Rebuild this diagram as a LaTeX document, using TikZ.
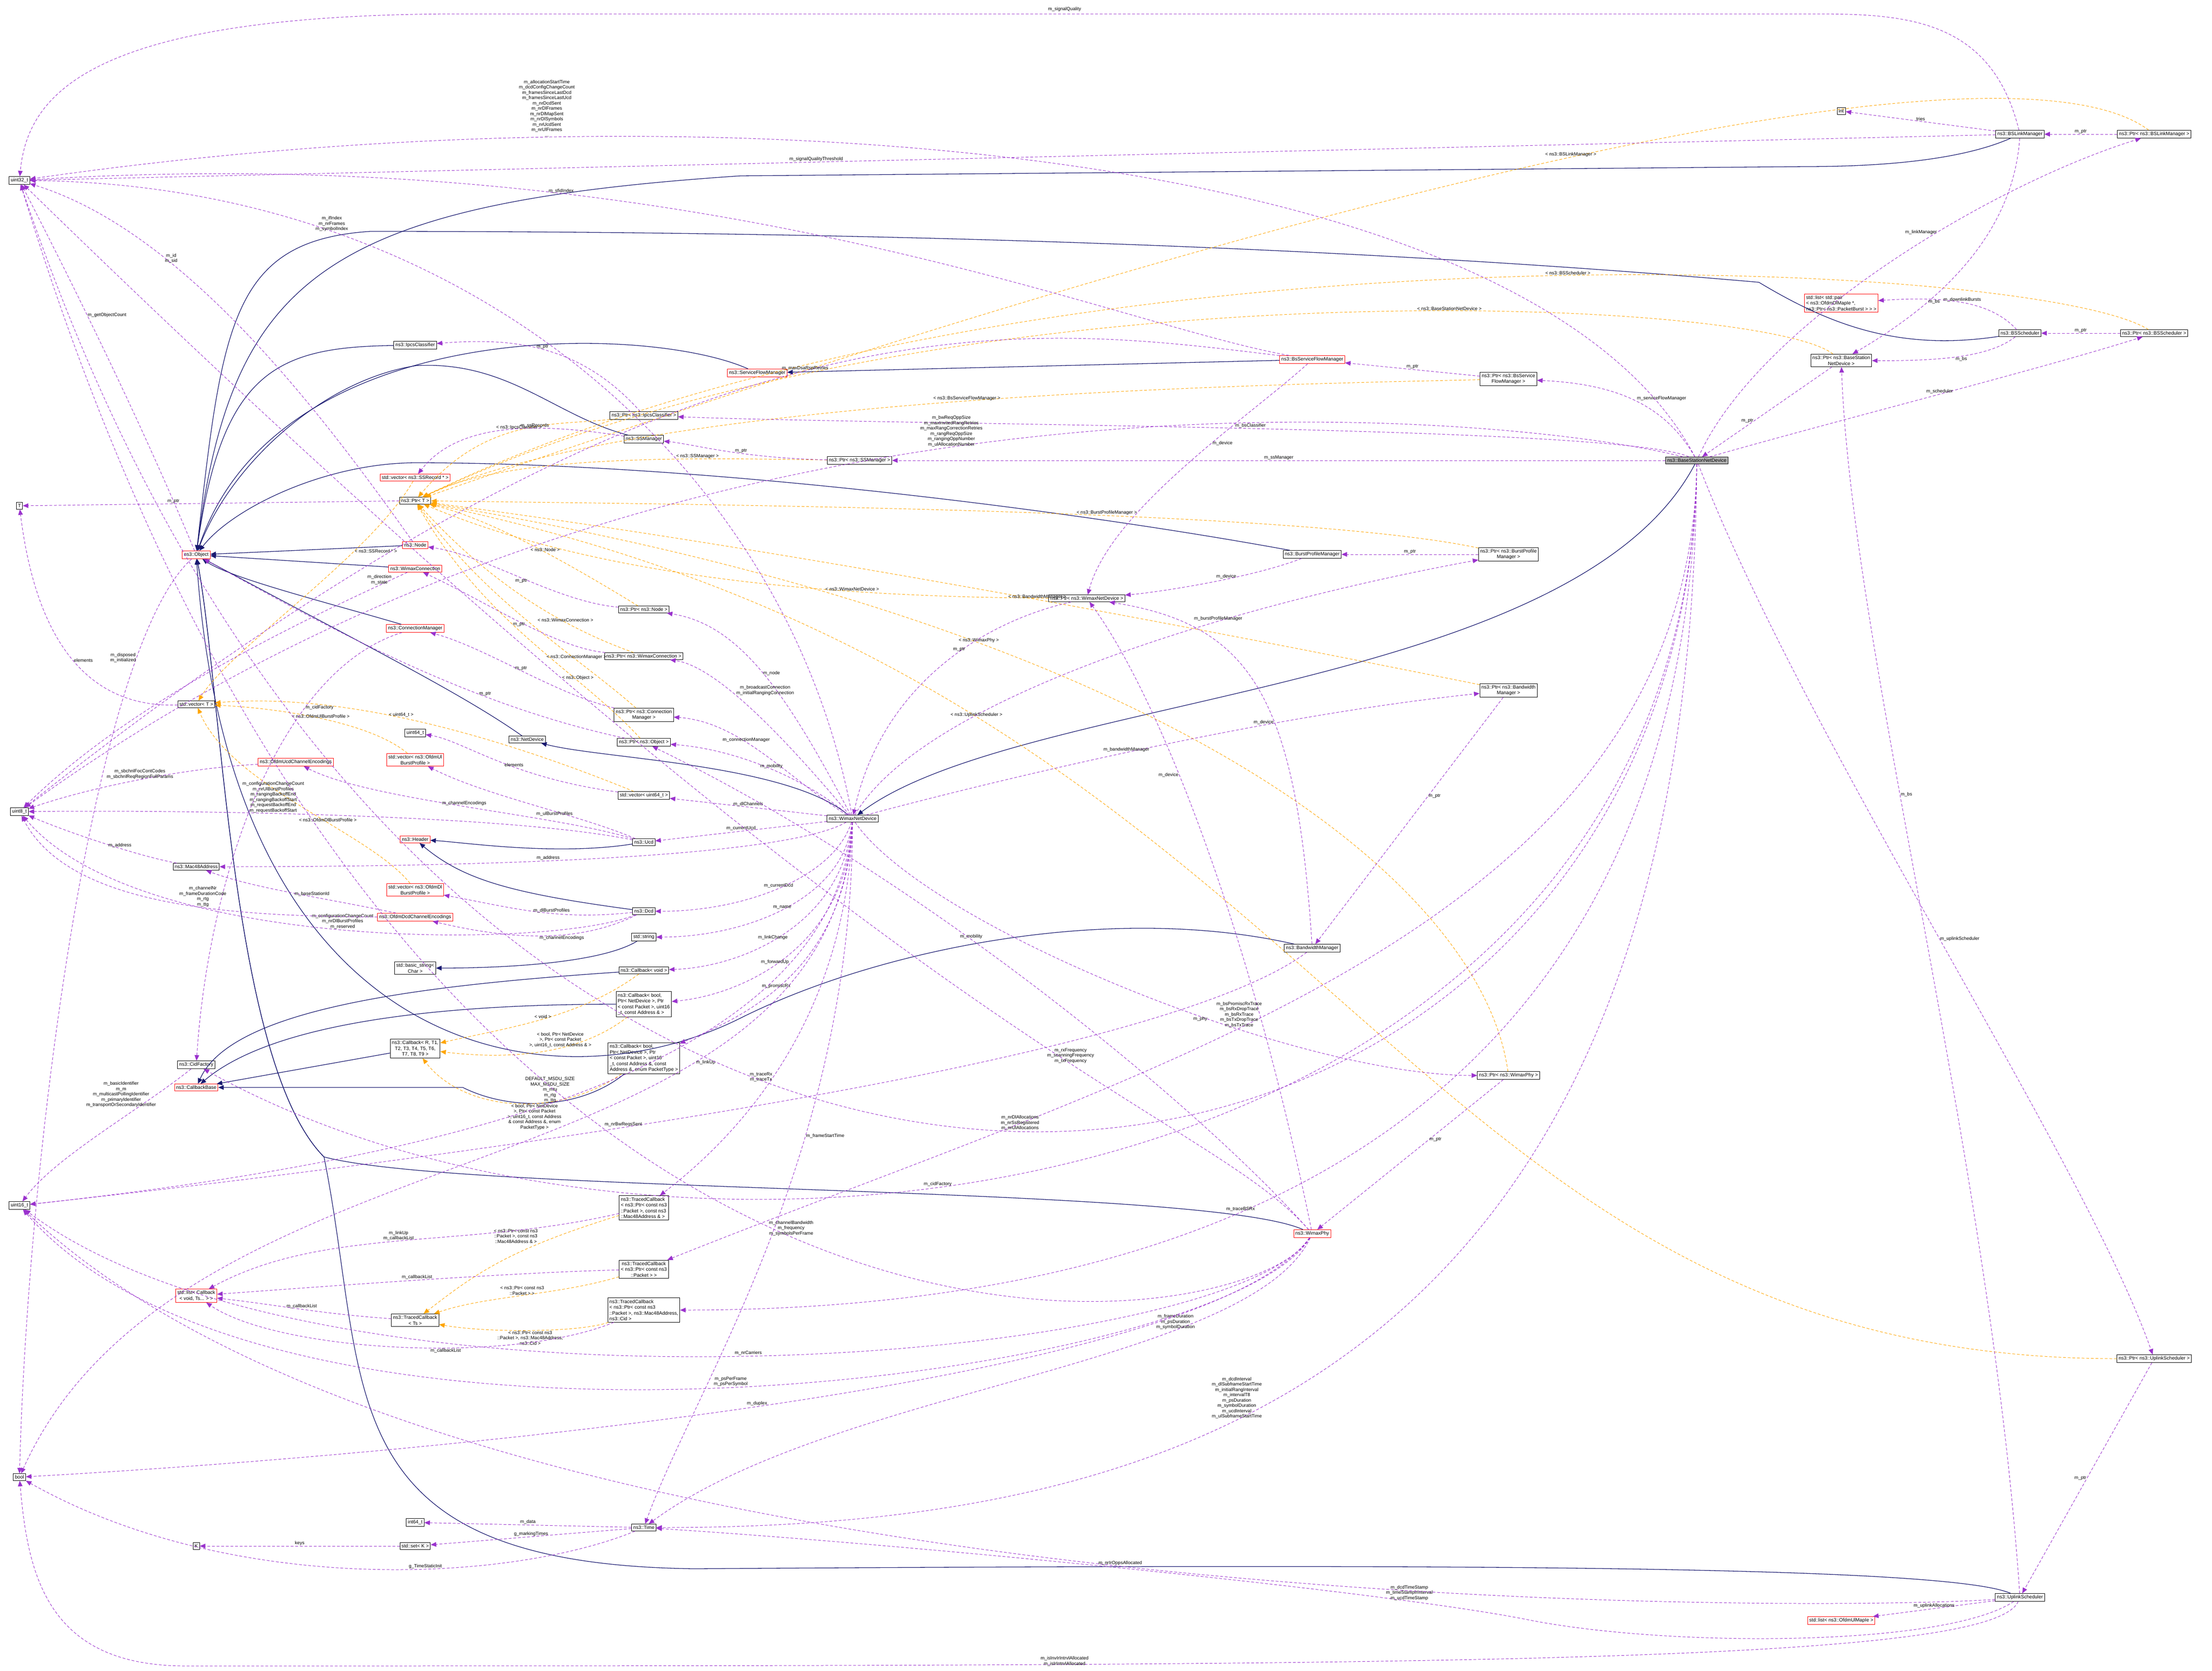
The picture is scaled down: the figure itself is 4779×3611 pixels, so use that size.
\documentclass[tikz,border=0pt]{standalone}
\usepackage{fontspec}
\setmainfont{Liberation Sans}
\usetikzlibrary{arrows.meta}
\definecolor{inhc}{HTML}{191970}
\definecolor{usec}{HTML}{9A32CD}
\definecolor{tmpc}{HTML}{FFA500}
\tikzset{
 box/.style={draw=black,fill=white,font=\fontsize{10.5}{12.5}\selectfont,inner sep=3.5pt,align=center,line width=1pt},
 boxr/.style={box,draw=red},
 boxg/.style={box,fill=black!30},
 inh/.style={draw=inhc,line width=1.3pt,-{Triangle[length=12pt,width=10pt]}},
 use/.style={draw=usec,line width=1pt,dash pattern=on 6pt off 4pt,-{Triangle[length=12pt,width=10pt]},fill=none},
 tmp/.style={draw=tmpc,line width=1pt,dash pattern=on 6pt off 4pt,-{Triangle[length=12pt,width=10pt]}},
 lbl/.style={font=\fontsize{10}{11.5}\selectfont,align=center,text=black,fill=none,inner sep=1pt},
}
\begin{document}
\begin{tikzpicture}[x=1pt,y=-1pt]
\useasboundingbox (0,0) rectangle (4779,3611);
\fill[white] (0,0) rectangle (4779,3611);
% nodes
\node[box] (u32) at (42,390) {uint32\_t};
\node[box] (T) at (42,1093) {T};
\node[boxr] (obj) at (424,1199) {ns3::Object};
\node[box] (ipcs) at (897,746) {ns3::IpcsClassifier};
\node[boxr] (sfm) at (1636,806) {ns3::ServiceFlowManager};
\node[box] (pipcs) at (1391,898) {ns3::Ptr< ns3::IpcsClassifier >};
\node[box] (ssm) at (1391,949) {ns3::SSManager};
\node[boxr] (vss) at (897,1032) {std::vector< ns3::SSRecord * >};
\node[box] (ptrT) at (897,1082) {ns3::Ptr< T >};
\node[boxr] (node) at (897,1178) {ns3::Node};
\node[boxr] (wcon) at (897,1229) {ns3::WimaxConnection};
\node[boxr] (cm) at (897,1358) {ns3::ConnectionManager};
\node[box] (pnode) at (1391,1317) {ns3::Ptr< ns3::Node >};
\node[box] (pwcon) at (1391,1418) {ns3::Ptr< ns3::WimaxConnection >};
\node[box] (vecT) at (424,1522) {std::vector< T >};
\node[box] (pcm) at (1391,1545) {ns3::Ptr< ns3::Connection\\Manager >};
\node[box] (u64) at (897,1584) {uint64\_t};
\node[box] (nd) at (1139,1598) {ns3::NetDevice};
\node[box] (pobj) at (1391,1604) {ns3::Ptr< ns3::Object >};
\node[boxr] (ucde) at (639,1647) {ns3::OfdmUcdChannelEncodings};
\node[boxr] (vul) at (897,1642) {std::vector< ns3::OfdmUl\\BurstProfile >};
\node[box] (vu64) at (1391,1719) {std::vector< uint64\_t >};
\node[box] (u8) at (42,1754) {uint8\_t};
\node[box] (wnd) at (1842,1769) {ns3::WimaxNetDevice};
\node[boxr] (hdr) at (897,1814) {ns3::Header};
\node[box] (ucd) at (1391,1820) {ns3::Ucd};
\node[box] (mac) at (424,1873) {ns3::Mac48Address};
\node[boxr] (vdl) at (897,1923) {std::vector< ns3::OfdmDl\\BurstProfile >};
\node[box] (dcd) at (1391,1969) {ns3::Dcd};
\node[boxr] (dcde) at (897,1982) {ns3::OfdmDcdChannelEncodings};
\node[box] (str) at (1391,2025) {std::string};
\node[box] (bstr) at (897,2092) {std::basic\_string<\\Char >};
\node[box] (cbv) at (1391,2097) {ns3::Callback< void >};
\node[box,align=left] (cbf) at (1391,2170) {ns3::Callback< bool,\\ Ptr< NetDevice >, Ptr\\< const Packet >, uint16\\\_t, const Address \& >};
\node[box] (cbr) at (897,2266) {ns3::Callback< R, T1,\\ T2, T3, T4, T5, T6,\\ T7, T8, T9 >};
\node[box,align=left] (cbp) at (1391,2287) {ns3::Callback< bool,\\ Ptr< NetDevice >, Ptr\\< const Packet >, uint16\\\_t, const Address \&, const\\ Address \&, enum PacketType >};
\node[box] (cidf) at (424,2301) {ns3::CidFactory};
\node[boxr] (cbb) at (424,2350) {ns3::CallbackBase};
\node[box] (u16) at (42,2605) {uint16\_t};
\node[box,align=left] (tcm) at (1391,2610) {ns3::TracedCallback\\< ns3::Ptr< const ns3\\::Packet >, const ns3\\::Mac48Address \& >};
\node[boxr] (lst) at (424,2800) {std::list< Callback\\< void, Ts... > >};
\node[box] (tcp) at (1391,2743) {ns3::TracedCallback\\< ns3::Ptr< const ns3\\::Packet > >};
\node[box] (tcts) at (897,2853) {ns3::TracedCallback\\< Ts >};
\node[box,align=left] (tcc) at (1391,2831) {ns3::TracedCallback\\< ns3::Ptr< const ns3\\::Packet >, ns3::Mac48Address,\\ ns3::Cid >};
\node[box] (bool) at (42,3192) {bool};
\node[box] (i64) at (897,3290) {int64\_t};
\node[box] (time) at (1391,3301) {ns3::Time};
\node[box] (K) at (424,3341) {K};
\node[box] (setK) at (897,3341) {std::set< K >};
\node[box] (int) at (3978,240) {int};
\node[box] (bslm) at (4364,290) {ns3::BSLinkManager};
\node[box] (pbslm) at (4654,290) {ns3::Ptr< ns3::BSLinkManager >};
\node[boxr,align=left] (lpair) at (3978,655) {std::list< std::pair\\< ns3::OfdmDlMapIe *,\\ ns3::Ptr< ns3::PacketBurst > > >};
\node[box] (bss) at (4364,720) {ns3::BSScheduler};
\node[box] (pbss) at (4654,720) {ns3::Ptr< ns3::BSScheduler >};
\node[box] (pbsnd) at (3978,779) {ns3::Ptr< ns3::BaseStation\\NetDevice >};
\node[boxr] (bsfm) at (2835,777) {ns3::BsServiceFlowManager};
\node[box] (pbsfm) at (3259,819) {ns3::Ptr< ns3::BsService\\FlowManager >};
\node[boxg] (bsnd) at (3666,995) {ns3::BaseStationNetDevice};
\node[box] (pssm) at (1857,995) {ns3::Ptr< ns3::SSManager >};
\node[box] (bpm) at (2835,1198) {ns3::BurstProfileManager};
\node[box] (pbpm) at (3259,1198) {ns3::Ptr< ns3::BurstProfile\\Manager >};
\node[box] (pwnd) at (2348,1293) {ns3::Ptr< ns3::WimaxNetDevice >};
\node[box] (pbwm) at (3259,1492) {ns3::Ptr< ns3::Bandwidth\\Manager >};
\node[box] (bwm) at (2835,2049) {ns3::BandwidthManager};
\node[box] (pphy) at (3259,2324) {ns3::Ptr< ns3::WimaxPhy >};
\node[boxr] (phy) at (2835,2666) {ns3::WimaxPhy};
\node[box] (pus) at (4654,2936) {ns3::Ptr< ns3::UplinkScheduler >};
\node[box] (us) at (4364,3452) {ns3::UplinkScheduler};
\node[boxr] (lul) at (3978,3502) {std::list< ns3::OfdmUlMapIe >};

% inheritance
\draw[inh] (bsnd) .. controls (3400,1500) and (2200,1500) .. (wnd);
\draw[inh] (wnd) .. controls (1700,1650) and (1300,1640) .. (nd);
\draw[inh] (nd) .. controls (1000,1500) and (800,1400) .. (obj);
\draw[inh] (bslm) .. controls (4250,340) and (4100,360) .. (3900,360) -- (1600,380) .. controls (700,440) and (500,600) .. (obj);
\draw[inh] (bss) .. controls (4100,760) and (3950,700) .. (3800,610) .. controls (3000,540) and (2000,500) .. (800,500) .. controls (500,520) and (480,700) .. (obj);
\draw[inh] (bsfm) -- (sfm);
\draw[inh] (sfm) .. controls (1400,700) and (600,680) .. (obj);
\draw[inh] (ipcs) .. controls (600,750) and (480,800) .. (obj);
\draw[inh] (ssm) .. controls (1200,900) and (1100,780) .. (900,790) .. controls (700,820) and (500,1000) .. (obj);
\draw[inh] (bpm) .. controls (2300,1100) and (1500,1000) .. (900,1000) .. controls (700,1000) and (500,1100) .. (obj);
\draw[inh] (node) -- (obj);
\draw[inh] (wcon) -- (obj);
\draw[inh] (cm) .. controls (700,1300) and (500,1250) .. (obj);
\draw[inh] (bwm) .. controls (2400,1950) and (1900,2050) .. (1600,2200) .. controls (1200,2400) and (500,2300) .. (obj);
\draw[inh] (phy) .. controls (2600,2560) and (1000,2580) .. (700,2500) .. controls (500,2300) and (480,1500) .. (obj);
\draw[inh] (us) .. controls (4200,3380) and (3000,3380) .. (1500,3390) .. controls (700,3380) and (800,3000) .. (700,2500) .. controls (500,2300) and (480,1500) .. (obj);
\draw[inh] (ucd) .. controls (1200,1850) and (1000,1820) .. (hdr);
\draw[inh] (dcd) .. controls (1100,1930) and (1000,1900) .. (hdr);
\draw[inh] (str) .. controls (1300,2080) and (1100,2092) .. (bstr);
\draw[inh] (cbv) .. controls (900,2130) and (500,2180) .. (cbb);
\draw[inh] (cbf) .. controls (1000,2170) and (600,2200) .. (cbb);
\draw[inh] (cbr) -- (cbb);
\draw[inh] (cbp) .. controls (1250,2400) and (1100,2400) .. (1000,2350) -- (cbb);

% templates
\draw[tmp] (pipcs) .. controls (1200,920) and (1050,900) .. node[lbl,pos=0.5,above]{< ns3::IpcsClassifier >} (ptrT);
\draw[tmp] (pssm) .. controls (1500,990) and (1100,980) .. node[lbl,pos=0.3,above]{< ns3::SSManager >} (ptrT);
\draw[tmp] (pnode) .. controls (1200,1200) and (1050,1120) .. node[lbl,pos=0.4,above]{< ns3::Node >} (ptrT);
\draw[tmp] (pwcon) .. controls (1200,1350) and (1050,1250) .. node[lbl,pos=0.3,above]{< ns3::WimaxConnection >} (ptrT);
\draw[tmp] (pcm) .. controls (1250,1420) and (1050,1300) .. node[lbl,pos=0.3,above]{< ns3::ConnectionManager >} (ptrT);
\draw[tmp] (pobj) .. controls (1250,1450) and (1050,1350) .. node[lbl,pos=0.3,above]{< ns3::Object >} (ptrT);
\draw[tmp] (pwnd) .. controls (1800,1290) and (1300,1250) .. node[lbl,pos=0.3,above]{< ns3::WimaxNetDevice >} (ptrT);
\draw[tmp] (pbpm) .. controls (2800,1100) and (1500,1090) .. node[lbl,pos=0.4,above]{< ns3::BurstProfileManager >} (ptrT);
\draw[tmp] (pbwm) .. controls (2800,1400) and (1800,1200) .. node[lbl,pos=0.5,above]{< ns3::BandwidthManager >} (ptrT);
\draw[tmp] (pphy) .. controls (3200,1900) and (2500,1350) .. node[lbl,pos=0.7,above]{< ns3::WimaxPhy >} (ptrT);
\draw[tmp] (pbsfm) .. controls (2800,830) and (1400,850) .. node[lbl,pos=0.5,above]{< ns3::BsServiceFlowManager >} (ptrT);
\draw[tmp] (pbsnd) .. controls (3800,640) and (2000,560) .. node[lbl,pos=0.4,above]{< ns3::BaseStationNetDevice >} (ptrT);
\draw[tmp] (pbss) .. controls (4400,560) and (2200,450) .. node[lbl,pos=0.45,above]{< ns3::BSScheduler >} (ptrT);
\draw[tmp] (pbslm) .. controls (4400,100) and (3300,250) .. node[lbl,pos=0.55,above]{< ns3::BSLinkManager >} (ptrT);
\draw[tmp] (pus) .. controls (3000,2936) and (2900,1500) .. node[lbl,pos=0.75,above]{< ns3::UplinkScheduler >} (ptrT);
\draw[tmp] (vss) .. controls (800,1200) and (500,1400) .. node[lbl,pos=0.3,right]{< ns3::SSRecord * >} (vecT);
\draw[tmp] (vul) .. controls (800,1560) and (600,1530) .. node[lbl,pos=0.5,above]{< ns3::OfdmUlBurstProfile >} (vecT);
\draw[tmp] (vu64) .. controls (1000,1560) and (700,1500) .. node[lbl,pos=0.5,above]{< uint64\_t >} (vecT);
\draw[tmp] (vdl) .. controls (800,1800) and (500,1700) .. node[lbl,pos=0.4,above]{< ns3::OfdmDlBurstProfile >} (vecT);
\draw[tmp] (cbv) .. controls (1250,2200) and (1100,2220) .. node[lbl,pos=0.5,above]{< void >} (cbr);
\draw[tmp] (cbf) .. controls (1250,2280) and (1100,2290) .. node[lbl,pos=0.4,above]{< bool, Ptr< NetDevice\\>, Ptr< const Packet\\>, uint16\_t, const Address \& >} (cbr);
\draw[tmp] (cbp) .. controls (1200,2420) and (1000,2400) .. node[lbl,pos=0.4,below]{< bool, Ptr< NetDevice\\>, Ptr< const Packet\\>, uint16\_t, const Address\\\& const Address \&, enum\\PacketType >} (cbr);
\draw[tmp] (tcm) .. controls (1100,2700) and (1030,2750) .. node[lbl,pos=0.3,above left]{< ns3::Ptr< const ns3\\::Packet >, const ns3\\::Mac48Address \& >} (tcts);
\draw[tmp] (tcp) .. controls (1200,2800) and (1050,2800) .. node[lbl,pos=0.5,above]{< ns3::Ptr< const ns3\\::Packet > >} (tcts);
\draw[tmp] (tcc) .. controls (1250,2880) and (1050,2880) .. node[lbl,pos=0.5,below]{< ns3::Ptr< const ns3\\::Packet >, ns3::Mac48Address,\\ns3::Cid >} (tcts);

% usage
\draw[use] (ptrT) -- node[lbl,pos=0.6,above]{m\_ptr} (T);
\draw[use] (vecT) .. controls (200,1530) and (80,1400) .. node[lbl,pos=0.5,right]{elements} (T);
\draw[use] (setK) -- node[lbl,above]{keys} (K);
\draw[use] (time) -- node[lbl,above]{m\_data} (i64);
\draw[use] (time) -- node[lbl,above]{g\_markingTimes} (setK);
\draw[use] (time) .. controls (1100,3420) and (500,3450) .. node[lbl,pos=0.4,above]{g\_TimeStaticInit} (bool);
\draw[use] (obj) .. controls (300,900) and (150,600) .. node[lbl,pos=0.6,right]{m\_getObjectCount} (u32);
\draw[use] (obj) .. controls (200,1400) and (60,2500) .. node[lbl,pos=0.2,left]{m\_disposed\\m\_initialized} (bool);
\draw[use] (node) .. controls (700,900) and (400,500) .. node[lbl,pos=0.7,right]{m\_id\\m\_sid} (u32);
\draw[use] (wcon) .. controls (700,1320) and (300,1500) .. node[lbl,pos=0.1,above]{m\_direction\\m\_state} (u8);
\draw[use] (cm) .. controls (600,1450) and (450,1900) .. node[lbl,pos=0.3,right]{m\_cidFactory} (cidf);
\draw[use] (pipcs) .. controls (1250,740) and (1100,730) .. node[lbl,above]{m\_ptr} (ipcs);
\draw[use] (pssm) .. controls (1600,990) and (1500,960) .. node[lbl,pos=0.4,above]{m\_ptr} (ssm);
\draw[use] (ssm) .. controls (1200,920) and (1000,900) .. node[lbl,pos=0.4,above]{m\_ssRecords} (vss);
\draw[use] (pnode) .. controls (1200,1300) and (1050,1200) .. node[lbl,pos=0.5,below]{m\_ptr} (node);
\draw[use] (pwcon) .. controls (1200,1400) and (1050,1300) .. node[lbl,pos=0.5,below]{m\_ptr} (wcon);
\draw[use] (pcm) .. controls (1200,1500) and (1050,1400) .. node[lbl,pos=0.5,above]{m\_ptr} (cm);
\draw[use] (pobj) .. controls (1000,1520) and (700,1350) .. node[lbl,pos=0.3,above]{m\_ptr} (obj);
\draw[use] (vu64) .. controls (1100,1680) and (1000,1600) .. node[lbl,pos=0.4,above]{elements} (u64);
\draw[use] (ucd) .. controls (1200,1760) and (800,1730) .. node[lbl,pos=0.5,above]{m\_channelEncodings} (ucde);
\draw[use] (ucd) .. controls (1250,1760) and (1050,1720) .. node[lbl,pos=0.4,below]{m\_ulBurstProfiles} (vul);
\draw[use] (ucd) .. controls (1100,1760) and (400,1750) .. node[lbl,pos=0.6,above]{m\_configurationChangeCount\\m\_nrUlBurstProfiles\\m\_rangingBackoffEnd\\m\_rangingBackoffStart\\m\_requestBackoffEnd\\m\_requestBackoffStart} (u8);
\draw[use] (ucde) .. controls (400,1660) and (200,1700) .. node[lbl,pos=0.5,above]{m\_sbchnlFocContCodes\\m\_sbchnlReqRegionFullParams} (u8);
\draw[use] (dcd) .. controls (1200,1990) and (1100,1960) .. node[lbl,pos=0.4,above]{m\_dlBurstProfiles} (vdl);
\draw[use] (dcd) .. controls (1250,2040) and (1100,2030) .. node[lbl,pos=0.4,below]{m\_channelEncodings} (dcde);
\draw[use] (dcd) .. controls (1200,2050) and (300,2060) .. node[lbl,pos=0.5,above]{m\_configurationChangeCount\\m\_nrDlBurstProfiles\\m\_reserved} (u8);
\draw[use] (dcde) .. controls (700,1940) and (550,1920) .. node[lbl,pos=0.4,above]{m\_baseStationId} (mac);
\draw[use] (dcde) .. controls (500,1980) and (150,1960) .. node[lbl,pos=0.4,above]{m\_channelNr\\m\_frameDurationCode\\m\_rtg\\m\_ttg} (u8);
\draw[use] (mac) .. controls (300,1850) and (150,1800) .. node[lbl,pos=0.4,above]{m\_address} (u8);
\draw[use] (cidf) .. controls (300,2400) and (120,2500) .. node[lbl,pos=0.2,left]{m\_basicIdentifier\\m\_m\\m\_multicastPollingIdentifier\\m\_primaryIdentifier\\m\_transportOrSecondaryIdentifier} (u16);
\draw[use] (tcm) .. controls (1000,2700) and (700,2650) .. node[lbl,pos=0.5,above]{m\_linkUp\\m\_callbackList} (lst);
\draw[use] (tcp) .. controls (1100,2750) and (700,2780) .. node[lbl,pos=0.5,above]{m\_callbackList} (lst);
\draw[use] (tcts) .. controls (700,2840) and (600,2820) .. node[lbl,pos=0.5,above]{m\_callbackList} (lst);
\draw[use] (tcc) .. controls (1100,2950) and (600,2920) .. node[lbl,pos=0.4,below]{m\_callbackList} (lst);
% WimaxNetDevice
\draw[use] (wnd) .. controls (1700,1500) and (1600,1350) .. node[lbl,pos=0.5,right]{m\_node} (pnode);
\draw[use] (wnd) .. controls (1700,1600) and (1550,1440) .. node[lbl,pos=0.6,above right]{m\_broadcastConnection\\m\_initialRangingConnection} (pwcon);
\draw[use] (wnd) .. controls (1700,1680) and (1600,1560) .. node[lbl,pos=0.6,above]{m\_connectionManager} (pcm);
\draw[use] (wnd) .. controls (1750,1690) and (1600,1620) .. node[lbl,pos=0.5,above]{m\_mobility} (pobj);
\draw[use] (wnd) -- node[lbl,pos=0.5,above]{m\_dlChannels} (vu64);
\draw[use] (wnd) -- node[lbl,pos=0.5,above]{m\_currentUcd} (ucd);
\draw[use] (wnd) .. controls (1700,1850) and (1100,1873) .. node[lbl,pos=0.6,above]{m\_address} (mac);
\draw[use] (wnd) .. controls (1800,1900) and (1600,1970) .. node[lbl,pos=0.5,above]{m\_currentDcd} (dcd);
\draw[use] (wnd) .. controls (1820,1950) and (1600,2025) .. node[lbl,pos=0.5,above]{m\_name} (str);
\draw[use] (wnd) .. controls (1820,2000) and (1600,2090) .. node[lbl,pos=0.55,above]{m\_linkChange} (cbv);
\draw[use] (wnd) .. controls (1830,2050) and (1600,2150) .. node[lbl,pos=0.55,above]{m\_forwardUp} (cbf);
\draw[use] (wnd) .. controls (1830,2100) and (1600,2200) .. node[lbl,pos=0.55,above]{m\_promiscRx} (cbp);
\draw[use] (wnd) .. controls (1830,2200) and (1600,2450) .. node[lbl,pos=0.55,left]{m\_traceRx\\m\_traceTx} (tcm);
\draw[use] (wnd) .. controls (1840,2500) and (1500,3000) .. node[lbl,pos=0.35,right]{m\_frameStartTime} (time);
\draw[use] (wnd) .. controls (2000,2000) and (2800,2324) .. node[lbl,pos=0.6,below]{m\_phy} (pphy);
\draw[use] (wnd) .. controls (1800,2300) and (1000,2500) .. node[lbl,pos=0.55,above]{DEFAULT\_MSDU\_SIZE\\MAX\_MSDU\_SIZE\\m\_mtu\\m\_rtg\\m\_ttg} (u16);
\draw[use] (wnd) .. controls (1700,1000) and (1000,400) .. node[lbl,pos=0.75,above]{m\_ifIndex\\m\_nrFrames\\m\_symbolIndex} (u32);
\draw[use] (wnd) .. controls (1800,2600) and (400,2400) .. node[lbl,pos=0.3,right]{m\_linkUp} (bool);
\draw[use] (wnd) .. controls (2100,1700) and (2700,1550) .. node[lbl,pos=0.5,above]{m\_bandwidthManager} (pbwm);
\draw[use] (wnd) .. controls (2000,1500) and (2700,1300) .. node[lbl,pos=0.65,above]{m\_burstProfileManager} (pbpm);
\draw[use] (pwnd) .. controls (2100,1350) and (1900,1500) .. node[lbl,pos=0.4,above]{m\_ptr} (wnd);
\draw[use] (bpm) .. controls (2700,1250) and (2500,1280) .. node[lbl,pos=0.4,above]{m\_device} (pwnd);
\draw[use] (pbpm) -- node[lbl,above]{m\_ptr} (bpm);
\draw[use] (bwm) .. controls (2800,1500) and (2700,1350) .. node[lbl,pos=0.4,left]{m\_device} (pwnd);
\draw[use] (bwm) .. controls (2500,2300) and (1000,2500) .. node[lbl,pos=0.6,above]{m\_nrBwReqsSent} (u16);
\draw[use] (pbwm) -- node[lbl,pos=0.4,right]{m\_ptr} (bwm);
\draw[use] (phy) .. controls (2700,2000) and (2500,1500) .. node[lbl,pos=0.6,left]{m\_device} (pwnd);
\draw[use] (phy) .. controls (2600,2400) and (2000,1900) .. node[lbl,pos=0.6,above]{m\_mobility} (pobj);
\draw[use] (phy) .. controls (2600,2400) and (2000,2300) .. node[lbl,pos=0.4,above]{m\_rxFrequency\\m\_scanningFrequency\\m\_txFrequency} (u32);
\draw[use] (phy) .. controls (2700,2950) and (1800,3000) .. node[lbl,pos=0.3,above]{m\_frameDuration\\m\_psDuration\\m\_symbolDuration} (time);
\draw[use] (phy) .. controls (2700,2900) and (900,3200) .. node[lbl,pos=0.5,above]{m\_channelBandwidth\\m\_frequency\\m\_symbolsPerFrame} (u32);
\draw[use] (phy) .. controls (2650,2950) and (700,3100) .. node[lbl,pos=0.5,above]{m\_nrCarriers} (u16);
\draw[use] (phy) .. controls (2650,2980) and (600,3250) .. node[lbl,pos=0.5,above]{m\_psPerFrame\\m\_psPerSymbol} (u16);
\draw[use] (phy) .. controls (2600,3000) and (800,3150) .. node[lbl,pos=0.5,above]{m\_duplex} (bool);
\draw[use] (pphy) -- node[lbl,pos=0.4,right]{m\_ptr} (phy);
% BS side
\draw[use] (bsfm) .. controls (2700,900) and (2400,1100) .. node[lbl,pos=0.4,right]{m\_device} (pwnd);
\draw[use] (bsfm) .. controls (2400,700) and (1500,300) .. node[lbl,pos=0.7,above]{m\_sfidIndex} (u32);
\draw[use] (bsfm) .. controls (2200,700) and (1500,600) .. node[lbl,pos=0.5,above]{m\_maxDsaRspRetries} (u8);
\draw[use] (pbsfm) -- node[lbl,above]{m\_ptr} (bsfm);
\draw[use] (bsnd) .. controls (3600,880) and (3500,830) .. node[lbl,pos=0.5,above right]{m\_serviceFlowManager} (pbsfm);
\draw[use] (bsnd) .. controls (3500,920) and (2000,920) .. node[lbl,pos=0.5,above]{m\_bsClassifier} (pipcs);
\draw[use] (bsnd) -- node[lbl,above]{m\_ssManager} (pssm);
\draw[use] (bsnd) .. controls (3800,700) and (4300,400) .. node[lbl,pos=0.6,left]{m\_linkManager} (pbslm);
\draw[use] (bsnd) .. controls (4000,900) and (4400,800) .. node[lbl,pos=0.5,above]{m\_scheduler} (pbss);
\draw[use] (bsnd) .. controls (3900,1600) and (4500,2500) .. node[lbl,pos=0.5,right]{m\_uplinkScheduler} (pus);
\draw[use] (pbsnd) -- node[lbl,pos=0.6,left]{m\_ptr} (bsnd);
\draw[use] (bsnd) .. controls (3300,300) and (1500,180) .. node[lbl,pos=0.75,above]{m\_allocationStartTime\\m\_dcdConfigChangeCount\\m\_framesSinceLastDcd\\m\_framesSinceLastUcd\\m\_nrDcdSent\\m\_nrDlFrames\\m\_nrDlMapSent\\m\_nrDlSymbols\\m\_nrUcdSent\\m\_nrUlFrames\\...} (u32);
\draw[use] (bsnd) .. controls (3300,900) and (1500,700) .. node[lbl,pos=0.55,above]{m\_bwReqOppSize\\m\_maxInvitedRangRetries\\m\_maxRangCorrectionRetries\\m\_rangReqOppSize\\m\_rangingOppNumber\\m\_ulAllocationNumber} (u8);
\draw[use] (bsnd) .. controls (3650,2000) and (2500,2300) .. node[lbl,pos=0.6,above]{m\_bsPromiscRxTrace\\m\_bsRxDropTrace\\m\_bsRxTrace\\m\_bsTxDropTrace\\m\_bsTxTrace} (tcp);
\draw[use] (bsnd) .. controls (3640,2500) and (2500,2831) .. node[lbl,pos=0.6,above]{m\_traceBSRx} (tcc);
\draw[use] (bsnd) .. controls (3640,2600) and (1500,2900) .. node[lbl,pos=0.6,above]{m\_cidFactory} (cidf);
\draw[use] (bsnd) .. controls (3640,2800) and (1000,3250) .. node[lbl,pos=0.5,above]{m\_nrDlAllocations\\m\_nrSsRegistered\\m\_nrUlAllocations} (u32);
\draw[use] (bsnd) .. controls (3650,3000) and (2500,3301) .. node[lbl,pos=0.6,above]{m\_dcdInterval\\m\_dlSubframeStartTime\\m\_initialRangInterval\\m\_intervalT8\\m\_psDuration\\m\_symbolDuration\\m\_ucdInterval\\m\_ulSubframeStartTime} (time);
\draw[use] (bslm) .. controls (4300,30) and (4100,30) .. (3900,30) -- (1000,30) .. controls (200,30) and (60,200) .. (u32);
\node[lbl] at (2300,20) {m\_signalQuality};
\draw[use] (bslm) -- node[lbl,pos=0.6,above]{m\_signalQualityThreshold} (u32);
\draw[use] (bslm) -- node[lbl,above]{tries} (int);
\draw[use] (bslm) .. controls (4350,500) and (4200,650) .. node[lbl,pos=0.7,right]{m\_bs} (pbsnd);
\draw[use] (pbslm) -- node[lbl,above]{m\_ptr} (bslm);
\draw[use] (bss) .. controls (4300,650) and (4200,640) .. node[lbl,above]{m\_downlinkBursts} (lpair);
\draw[use] (bss) .. controls (4300,770) and (4200,780) .. node[lbl,below]{m\_bs} (pbsnd);
\draw[use] (pbss) -- node[lbl,above]{m\_ptr} (bss);
\draw[use] (pus) -- node[lbl,pos=0.5,left]{m\_ptr} (us);
\draw[use] (us) .. controls (4300,2500) and (4000,1400) .. node[lbl,pos=0.6,right]{m\_bs} (pbsnd);
\draw[use] (us) -- node[lbl,above]{m\_uplinkAllocations} (lul);
\draw[use] (us) .. controls (4200,3560) and (3600,3560) .. (3300,3500) .. controls (3000,3440) and (2000,3340) .. node[lbl,pos=0.2,above]{m\_dcdTimeStamp\\m\_timeStampIrInterval\\m\_ucdTimeStamp} (time);
\draw[use] (us) .. controls (4000,3480) and (1000,3520) .. node[lbl,pos=0.5,above]{m\_nrIrOppsAllocated} (u16);
\draw[use] (us) .. controls (4300,3600) and (3000,3600) .. (400,3600) .. controls (100,3600) and (60,3400) .. (bool);
\node[lbl] at (2300,3590) {m\_isInvIrIntrvlAllocated\\m\_isIrIntrvlAllocated};
\end{tikzpicture}
\end{document}
